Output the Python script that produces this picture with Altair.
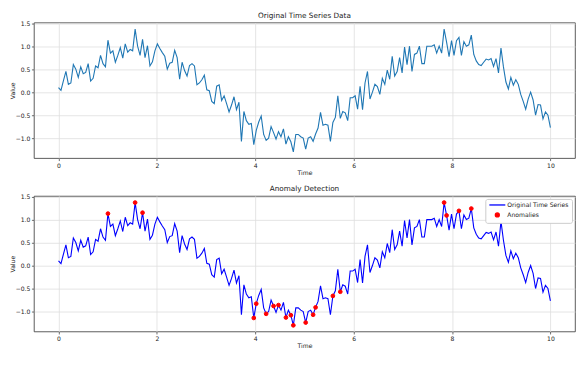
import altair as alt
import pandas as pd

N = 200
time = [i * 10 / (N - 1) for i in range(N)]

values = [
    0.10, 0.04, 0.25, 0.45, 0.17, 0.20, 0.60, 0.50, 0.32, 0.55, 0.40, 0.43, 0.62, 0.24, 0.30, 0.57, 0.53, 0.80, 0.62, 0.55, 1.13,
    0.85, 0.90, 0.65, 0.80, 0.97, 0.74, 1.05, 0.87, 0.93, 0.90, 1.37, 1.00, 0.80, 1.15, 0.75, 1.01, 0.57, 0.66, 0.90, 1.05,
    0.95, 0.86, 0.78, 0.50, 0.63, 0.65, 0.91, 0.75, 0.28, 0.65, 0.47, 0.35, 0.58, 0.62, 0.57, 0.16, 0.20, 0.27, 0.37, 0.05,
    0.03, -0.20, -0.25, 0.13, 0.16, -0.18, -0.08, -0.25, -0.43, -0.28, -0.10, -0.38, -0.22, -1.07, -0.42, -0.62, -0.70, -0.68, -1.14, -0.83,
    -0.65, -0.52, -0.92, -1.05, -1.00, -0.75, -0.88, -1.02, -0.86, -0.97, -0.80, -1.13, -0.97, -1.08, -1.30, -0.92, -0.92, -0.97, -1.00, -1.24,
    -1.00, -0.97, -1.07, -0.91, -0.78, -0.44, -0.72, -0.70, -0.72, -1.07, -0.66, -0.55, -0.08, -0.57, -0.42, -0.45, -0.62, -0.12, -0.12, -0.08,
    -0.37, 0.13, -0.38, 0.20, 0.45, -0.15, 0.00, 0.17, 0.12, -0.05, 0.30, 0.17, 0.48, 0.28, 0.78, 0.35, 0.45, 0.75, 0.42, 0.98,
    0.60, 1.00, 0.45, 0.82, 0.85, 1.00, 0.62, 0.62, 1.00, 1.00, 1.00, 1.03, 0.85, 1.00, 0.85, 1.37, 1.09, 0.77, 1.12, 0.80,
    1.12, 1.19, 0.80, 1.10, 1.00, 1.03, 1.24, 0.82, 0.68, 0.60, 0.58, 0.65, 0.72, 0.70, 0.73, 0.56, 0.73, 0.42, 0.96, 0.55,
    0.22, 0.07, 0.32, 0.15, 0.27, 0.17, -0.05, -0.20, -0.37, -0.15, 0.00, -0.17, -0.50, -0.27, -0.28, -0.58, -0.43, -0.50, -0.77,
]

anomaly_idx = [20, 31, 34, 79, 80, 84, 87, 89, 92, 94, 95, 100, 103, 104, 111, 114, 156, 157, 162, 167]

series_names = ["Original Time Series", "Anomalies"]
x_ticks = [0, 2, 4, 6, 8, 10]
y_ticks = [-1.0, -0.5, 0.0, 0.5, 1.0, 1.5]

df = pd.DataFrame({"Time": time, "Value": values})
adf = pd.DataFrame({
    "Time": [time[i] for i in anomaly_idx],
    "Value": [values[i] for i in anomaly_idx],
    "kind": ["Anomalies"] * len(anomaly_idx),
})

FONT = "DejaVu Sans"
xdom = [-0.5, 10.5]
ydom = [-1.434, 1.514]


def xenc():
    return alt.X("Time:Q", scale=alt.Scale(domain=xdom, nice=False, zero=False),
                 axis=alt.Axis(values=x_ticks, format="d", title="Time"))


def yenc():
    return alt.Y("Value:Q", scale=alt.Scale(domain=ydom, nice=False, zero=False),
                 axis=alt.Axis(values=y_ticks, format=".1f", title="Value"))


W, H = 543, 136

top = alt.Chart(df).mark_line(color="#1f77b4", strokeWidth=1.1).encode(
    x=xenc(), y=yenc()
).properties(width=W, height=H, title="Original Time Series Data")

line2 = alt.Chart(df).mark_line(color="blue", strokeWidth=1.1).encode(x=xenc(), y=yenc())

LINE_PATH = "M-4,0H4"
leg = alt.Legend(title=None, orient="top-right", offset=3, padding=3,
                 fillColor="white", strokeColor="#cccccc", cornerRadius=2,
                 labelFont=FONT, labelFontSize=6.1, labelColor="#222",
                 symbolSize=16, symbolStrokeWidth=1.3, symbolOffset=6,
                 labelOffset=7, rowPadding=1)

pts = alt.Chart(adf).mark_point(filled=False, size=14, opacity=1, strokeWidth=1).encode(
    x=xenc(), y=yenc(),
    color=alt.Color("kind:N", scale=alt.Scale(domain=series_names, range=["blue", "red"]), legend=leg),
    fill=alt.Fill("kind:N", scale=alt.Scale(domain=series_names, range=["blue", "red"]), legend=leg),
    shape=alt.Shape("kind:N", scale=alt.Scale(domain=series_names, range=[LINE_PATH, "circle"]), legend=leg),
)

bottom = alt.layer(line2, pts).properties(width=W, height=H, title="Anomaly Detection")

chart = alt.vconcat(top, bottom, spacing=8).resolve_legend(
    color="independent", fill="independent", shape="independent"
).properties(
    padding={"left": 0, "top": 2, "right": 0, "bottom": 5}
).configure_view(
    stroke="#333", strokeWidth=0.8
).configure_axis(
    domain=False, grid=True, gridColor="#dedede", gridWidth=0.8,
    tickColor="#333", tickSize=2.5, tickWidth=0.7,
    labelFont=FONT, labelFontSize=6.1, labelColor="#222", labelPadding=1.5,
    titleFont=FONT, titleFontSize=6.1, titleFontWeight="normal", titleColor="#222", titlePadding=1,
).configure_axisY(
    titlePadding=0
).configure_title(
    font=FONT, fontSize=7.3, fontWeight="normal", color="#222", offset=1
)

chart.save("out.html", embed_options={"renderer": "svg", "actions": False})
